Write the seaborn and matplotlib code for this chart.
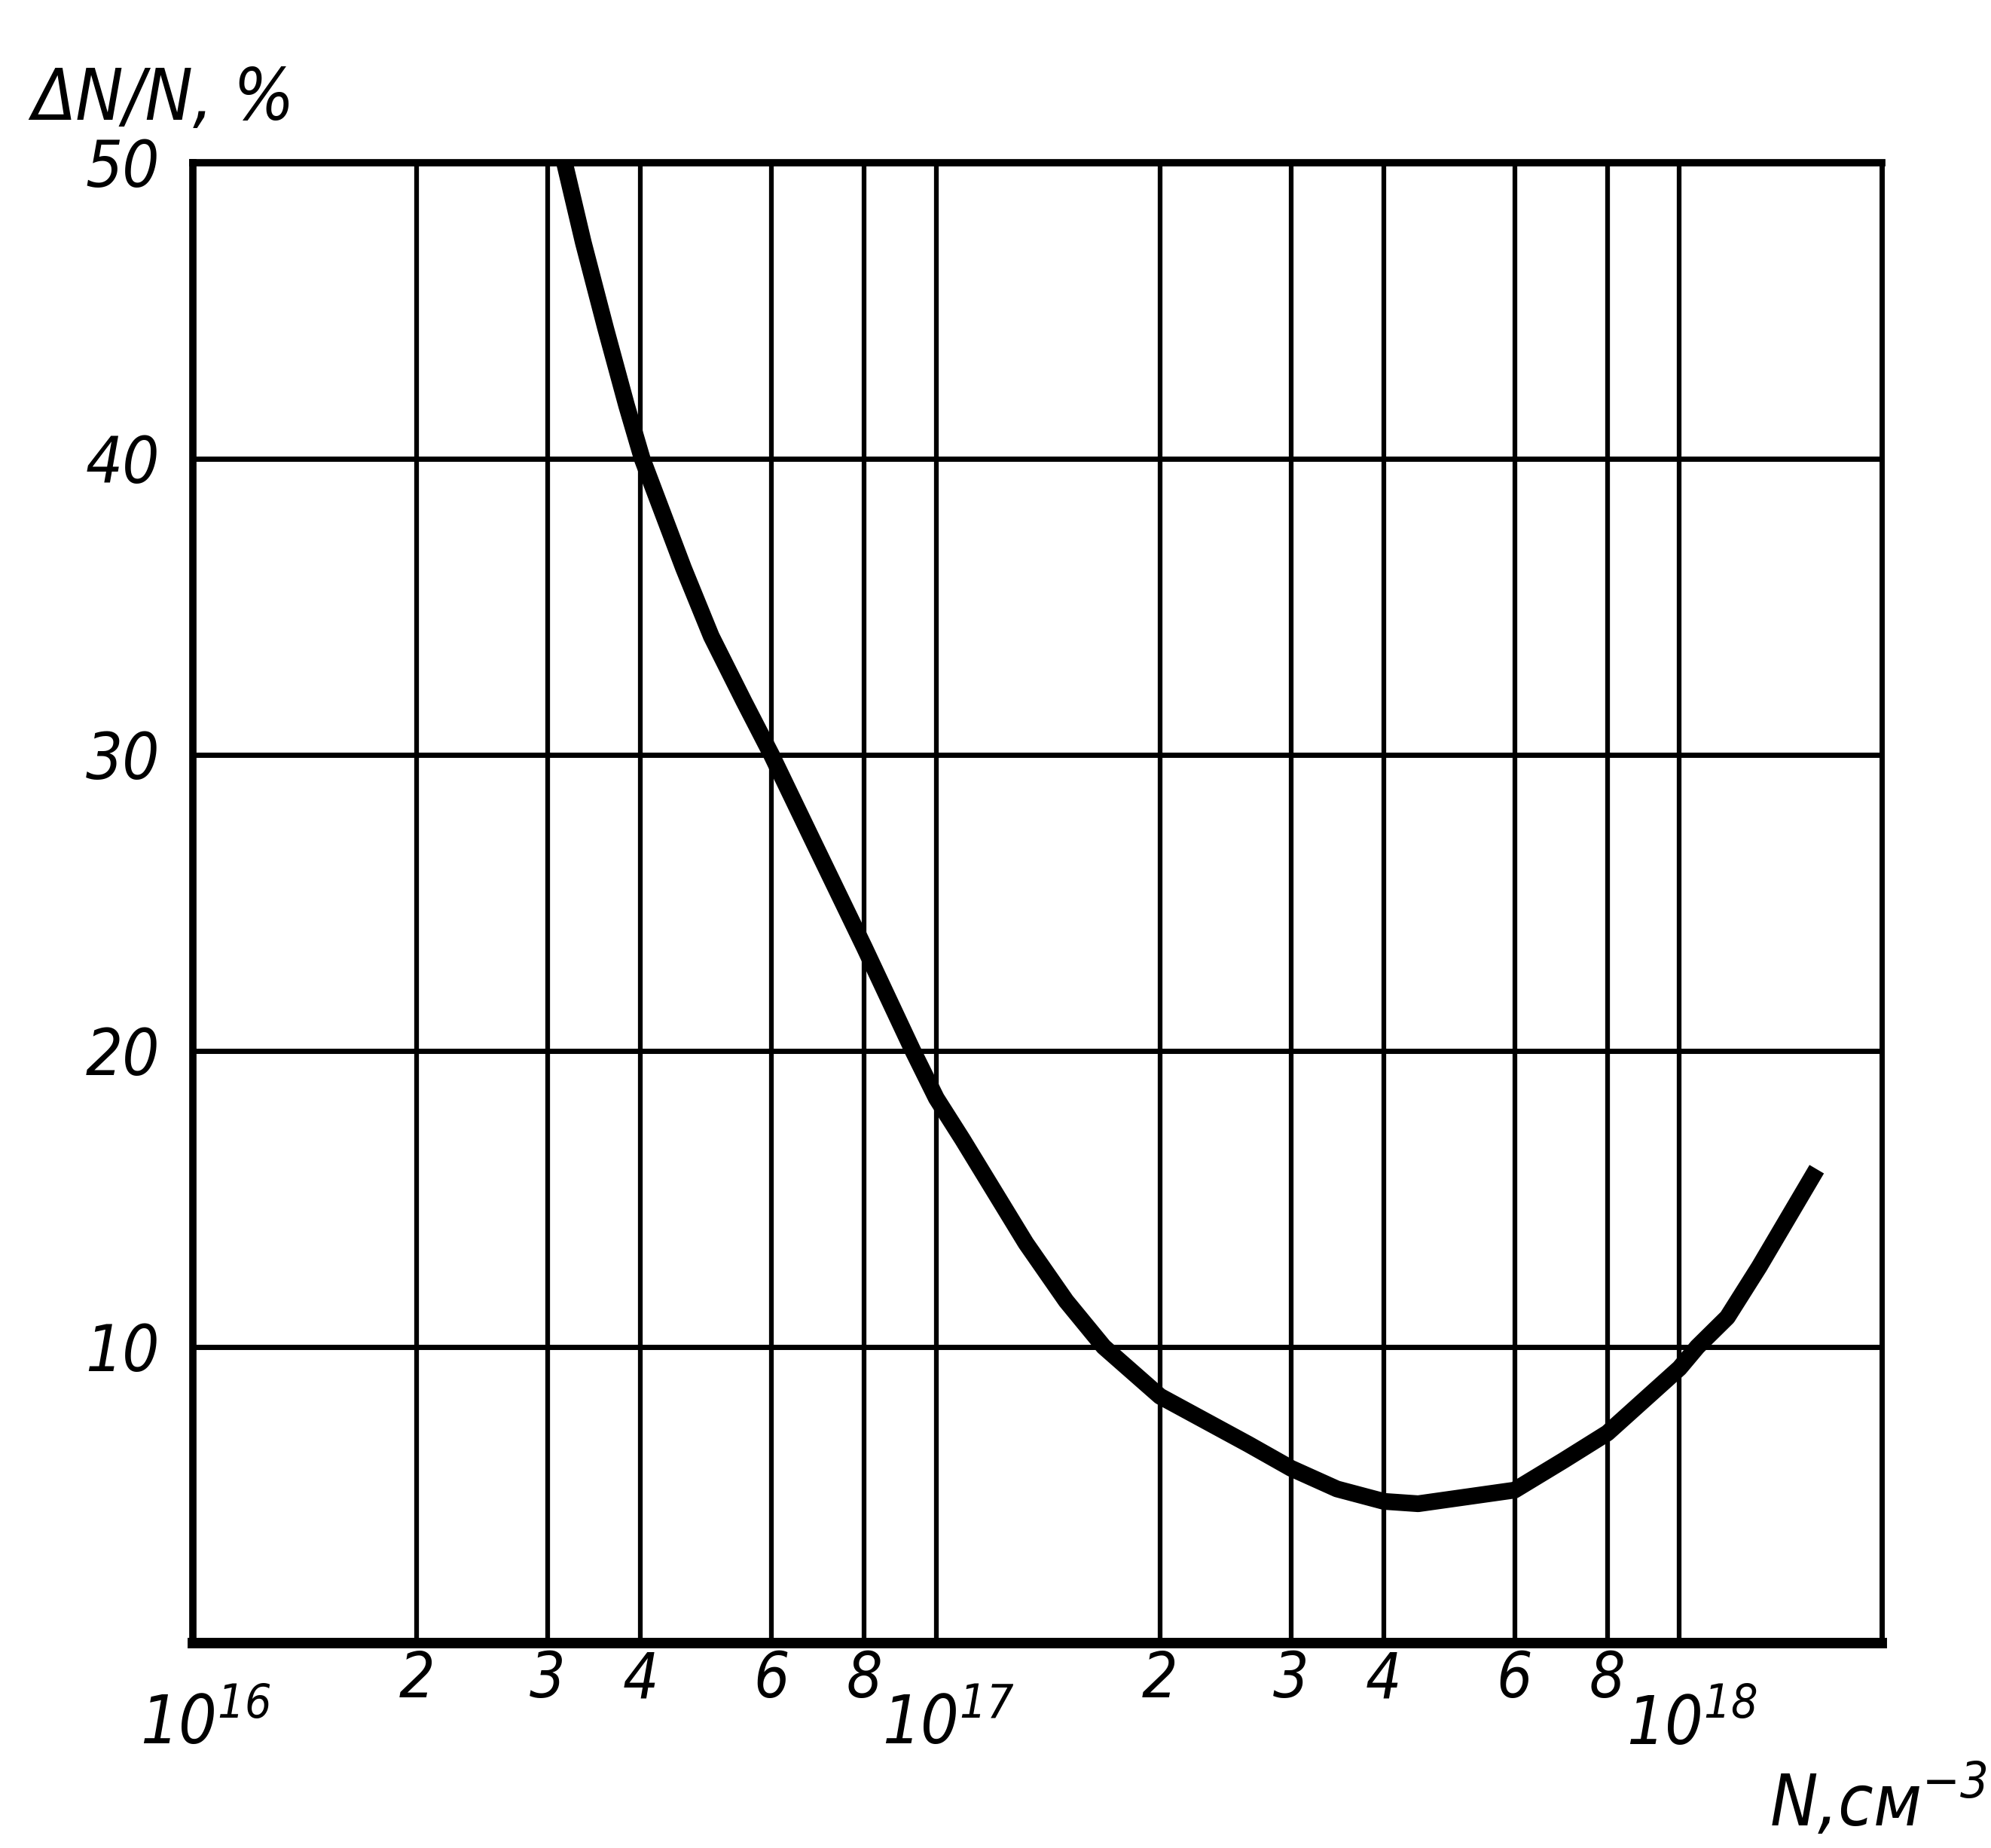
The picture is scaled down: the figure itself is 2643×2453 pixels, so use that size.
import numpy as np
import pandas as pd
import seaborn as sns
import matplotlib.pyplot as plt
import matplotlib.transforms as mtransforms
from matplotlib.ticker import FixedLocator, FixedFormatter

# значения (N, см^-3 ; ΔN/N, %)
conc = [3.16e16, 3.35e16, 3.59e16, 3.83e16, 4.02e16, 4.57e16, 4.98e16, 5.51e16,
        6e16, 6.85e16, 8e16, 9.3e16, 1e17, 1.085e17, 1.32e17, 1.495e17,
        1.68e17, 2e17, 2.63e17, 3e17, 3.46e17, 4e17, 4.45e17, 6e17,
        6.98e17, 8e17, 1e18, 1.057e18, 1.16e18, 1.28e18, 1.53e18]
rel_err = [50, 47.3, 44.4, 41.8, 40, 36.3, 34.0, 31.8,
           30, 27.0, 23.5, 20, 18.4, 17.0, 13.5, 11.55,
           10, 8.33, 6.71, 5.9, 5.2, 4.78, 4.7, 5.16,
           6.16, 7.09, 9.28, 10, 11.0, 12.7, 16.0]

major_x = [1e16, 1e17, 1e18]
major_x_labels = ["$10^{16}$", "$10^{17}$", "$10^{18}$"]
minor_x = [2e16, 3e16, 4e16, 6e16, 8e16, 2e17, 3e17, 4e17, 6e17, 8e17]
minor_x_labels = ["2", "3", "4", "6", "8", "2", "3", "4", "6", "8"]
y_ticks = [10, 20, 30, 40, 50]

df = pd.DataFrame({"N": conc, "dN": rel_err})

sns.set_theme(style="white")
plt.rcParams['font.family'] = ['DejaVu Sans']
plt.rcParams['font.stretch'] = 'condensed'
plt.rcParams['mathtext.fontset'] = 'custom'
plt.rcParams['mathtext.it'] = 'DejaVu Sans:style=oblique:stretch=condensed'
plt.rcParams['mathtext.rm'] = 'DejaVu Sans:style=oblique:stretch=condensed'
plt.rcParams['mathtext.default'] = 'it'
plt.rcParams['text.color'] = 'black'
plt.rcParams['xtick.color'] = 'black'
plt.rcParams['ytick.color'] = 'black'

fig = plt.figure(figsize=(26.43, 24.53), dpi=100)
ax = fig.add_axes([0.097, 0.111, 0.848, 0.801])

sns.lineplot(data=df, x="N", y="dN", ax=ax, color="black", linewidth=16,
             solid_capstyle="butt", solid_joinstyle="round")

ax.set_xscale("log")
ax.set_xlim(1e16, 1.87e18)
ax.set_ylim(0, 50)

ax.xaxis.set_major_locator(FixedLocator(major_x))
ax.xaxis.set_major_formatter(FixedFormatter(major_x_labels))
ax.xaxis.set_minor_locator(FixedLocator(minor_x))
ax.xaxis.set_minor_formatter(FixedFormatter(minor_x_labels))
ax.set_yticks(y_ticks)
ax.set_yticklabels([str(v) for v in y_ticks])

ax.tick_params(axis="x", which="major", length=0, pad=48, labelsize=64)
ax.tick_params(axis="x", which="minor", length=0, pad=6, labelsize=60)
ax.tick_params(axis="y", length=0, pad=32, labelsize=62)
for lab in ax.get_xticklabels(which="both") + ax.get_yticklabels():
    lab.set_style("italic")
# подписи степеней чуть правее линии, как на исходном рисунке
shift = mtransforms.ScaledTranslation(16 / 100, 0, fig.dpi_scale_trans)
for lab in ax.get_xticklabels(which="major"):
    lab.set_transform(lab.get_transform() + shift)

ax.grid(True, which="both", axis="x", color="black", linewidth=4.5)
ax.grid(True, which="major", axis="y", color="black", linewidth=5)
ax.set_axisbelow(True)

for side, w in [("left", 7), ("bottom", 10), ("top", 7), ("right", 5)]:
    ax.spines[side].set_visible(True)
    ax.spines[side].set_color("black")
    ax.spines[side].set_linewidth(w)

ax.set_xlabel("")
ax.set_ylabel("")

fig.text(0.016, 0.946, "ΔN/N, %", fontsize=68, style="italic",
         ha="left", va="center")
fig.text(0.998, 0.012, "N,см$^{-3}$", fontsize=68, style="italic",
         ha="right", va="baseline")

fig.savefig("out.png", dpi=100, facecolor="white")
